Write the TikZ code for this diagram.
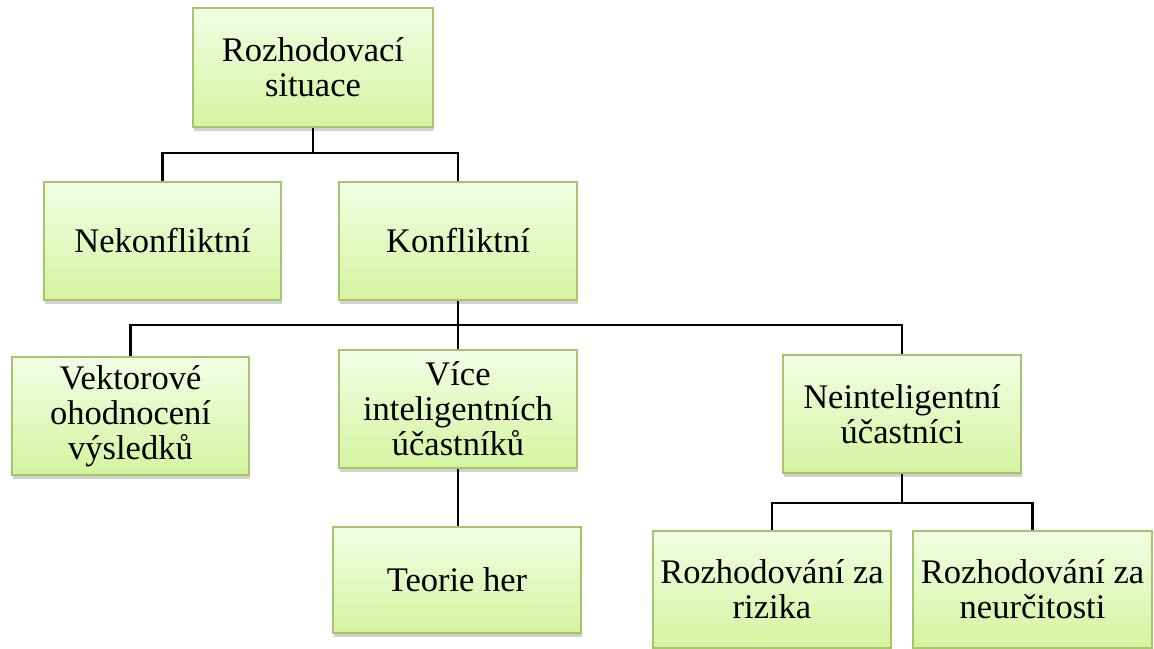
\documentclass[tikz,border=0pt]{standalone}
\usepackage{fontspec}
\setmainfont{Liberation Serif}
\usetikzlibrary{shadows}
\definecolor{boxtop}{HTML}{F2FDE4}
\definecolor{boxbot}{HTML}{D4F4A0}
\definecolor{boxline}{HTML}{A6C46C}
\tikzset{
  box/.style={draw=boxline, line width=1.6pt, top color=boxtop, bottom color=boxbot,
    align=center, inner sep=2pt, font=\fontsize{34.5}{35}\selectfont,
    drop shadow={shadow xshift=1pt, shadow yshift=-4pt, opacity=0.3, fill=black!60}},
  conn/.style={line width=2.6pt, black}
}
\begin{document}
\begin{tikzpicture}[x=1pt,y=-1pt]
\useasboundingbox (0,0) rectangle (1154,648);
\node[box, minimum width=240pt, minimum height=119pt] (root) at (313,67.5) {Rozhodovací\\situace};
\node[box, minimum width=237pt, minimum height=118pt] (nek) at (162.5,241) {Nekonfliktní};
\node[box, minimum width=238pt, minimum height=118pt] (konf) at (458,241) {Konfliktní};
\node[box, minimum width=237pt, minimum height=118pt] (vekt) at (130.5,416) {Vektorové\\ohodnocení\\výsledků};
\node[box, minimum width=238pt, minimum height=118pt] (vice) at (458,409) {Více\\inteligentních\\účastníků};
\node[box, minimum width=238pt, minimum height=118pt] (neint) at (902,414) {Neinteligentní\\účastníci};
\node[box, minimum width=248pt, minimum height=106pt] (teorie) at (457,580) {Teorie her};
\node[box, minimum width=238pt, minimum height=117pt] (rizika) at (772,589.5) {Rozhodování za\\rizika};
\node[box, minimum width=239pt, minimum height=117pt] (neurc) at (1032.5,589.5) {Rozhodování za\\neurčitosti};

\coordinate (j1) at (313,153);
\coordinate (j2) at (458,325);
\coordinate (j3) at (902,503);

\draw[conn] (root.south) -- (j1);
\draw[conn] (j1) -| (nek.north);
\draw[conn] (j1) -| (konf.north);
\draw[conn] (konf.south) -- (j2);
\draw[conn] (j2) -| (vekt.north);
\draw[conn] (j2) -- (vice.north);
\draw[conn] (j2) -| (neint.north);
\draw[conn] (vice.south) -- (teorie.north -| vice.south);
\draw[conn] (neint.south) -- (j3);
\draw[conn] (j3) -| (rizika.north);
\draw[conn] (j3) -| (neurc.north);
\end{tikzpicture}
\end{document}
